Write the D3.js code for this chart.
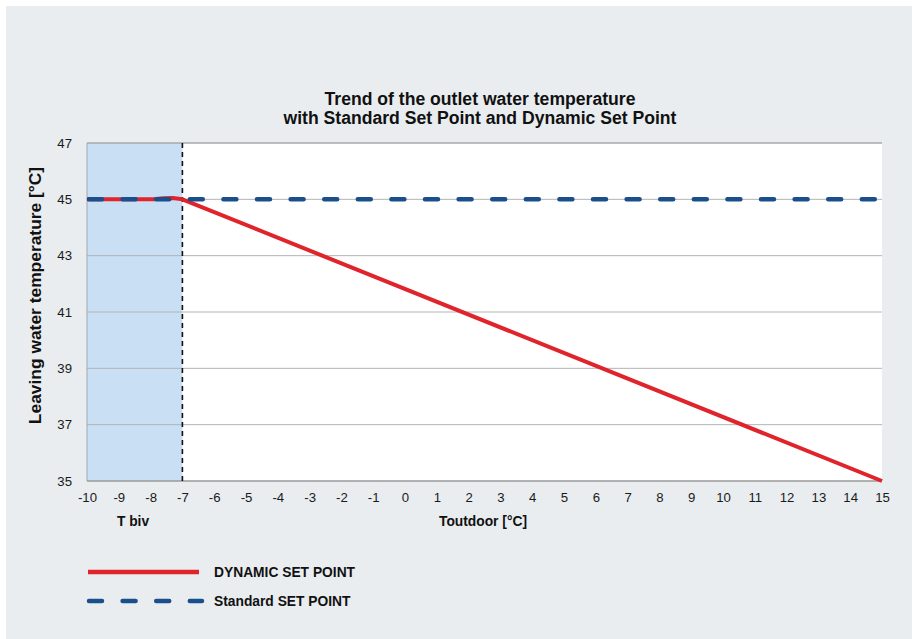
<!DOCTYPE html>
<html><head><meta charset="utf-8">
<script src="https://cdn.jsdelivr.net/npm/d3@7/dist/d3.min.js"></script>
<style>body{margin:0;background:#fff;} svg{display:block;font-family:"Liberation Sans",Arial,sans-serif;}</style>
</head><body>
<svg id="c" width="912" height="639"></svg>
<script>
const xTicks = d3.range(-10, 16, 1);
const yTicks = [35, 37, 39, 41, 43, 45, 47];
const dynamicX = [-10, -7.9, -7.6, -7.3, -7, 15];
const dynamicY = [45, 45, 45.04, 45.05, 45, 35];
const standardX = [-10, 15];
const standardY = [45, 45];
const tBiv = -7;
const titleLines = ["Trend of the outlet water temperature", "with Standard Set Point and Dynamic Set Point"];

const svg = d3.select("#c");
svg.append("rect").attr("x", 6).attr("y", 6).attr("width", 906).attr("height", 633).attr("fill", "#e9edf0");

const m = {l: 87, r: 882, t: 143, b: 481};
const x = d3.scaleLinear().domain([-10, 15]).range([m.l, m.r]);
const y = d3.scaleLinear().domain([35, 47]).range([m.b, m.t]);

svg.append("rect").attr("x", m.l).attr("y", m.t).attr("width", m.r - m.l).attr("height", m.b - m.t).attr("fill", "#fff");
svg.append("rect").attr("x", x(-10)).attr("y", m.t).attr("width", x(tBiv) - x(-10)).attr("height", m.b - m.t).attr("fill", "#c9dff3");

// gridlines
svg.append("g").selectAll("line").data(yTicks.filter(d => d > 35)).join("line")
  .attr("x1", m.l).attr("x2", m.r).attr("y1", d => y(d)).attr("y2", d => y(d))
  .attr("stroke", d => d === 47 ? "#a8a8a8" : "#b4b4b4").attr("stroke-width", d => d === 47 ? 1.5 : 1);

// axes lines
svg.append("line").attr("x1", m.l).attr("x2", m.l).attr("y1", m.t).attr("y2", m.b).attr("stroke", "#a0a8b0").attr("stroke-width", 1);
svg.append("line").attr("x1", m.l).attr("x2", m.r).attr("y1", m.b).attr("y2", m.b).attr("stroke", "#9a9a9a").attr("stroke-width", 1.5);

// tick labels
const fmt = d => String(d);
const yAxis = d3.axisLeft(y).tickValues(yTicks).tickSize(0).tickPadding(15).tickFormat(fmt);
const gy = svg.append("g").attr("transform", `translate(${m.l},0)`).call(yAxis);
gy.select(".domain").remove();
gy.selectAll("text").attr("font-size", 13.2).attr("fill", "#1a1a1a").attr("font-family", "Liberation Sans, Arial, sans-serif");

const xAxis = d3.axisBottom(x).tickValues(xTicks).tickSize(0).tickPadding(12).tickFormat(fmt);
const gx = svg.append("g").attr("transform", `translate(0,${m.b})`).call(xAxis);
gx.select(".domain").remove();
gx.selectAll("text").attr("font-size", 13.2).attr("fill", "#1a1a1a").attr("font-family", "Liberation Sans, Arial, sans-serif");

// tbiv vertical dashed
svg.append("line").attr("x1", x(tBiv)).attr("x2", x(tBiv)).attr("y1", m.t).attr("y2", m.b)
  .attr("stroke", "#111").attr("stroke-width", 1.6).attr("stroke-dasharray", "5,4");

const line = d3.line().x(d => x(d[0])).y(d => y(d[1]));
svg.append("path").datum(dynamicX.map((d, i) => [d, dynamicY[i]])).attr("d", line)
  .attr("fill", "none").attr("stroke", "#e0242c").attr("stroke-width", 4).attr("stroke-linejoin", "round");
svg.append("path").datum(standardX.map((d, i) => [d, standardY[i]])).attr("d", line)
  .attr("fill", "none").attr("stroke", "#1b4f8b").attr("stroke-width", 4.5)
  .attr("stroke-dasharray", "13,20.6").attr("stroke-linecap", "round").attr("stroke-dashoffset", -2);

// titles
svg.append("text").attr("x", 480).attr("y", 105).attr("text-anchor", "middle").attr("font-size", 17.6).attr("font-weight", "bold").attr("fill", "#111").text(titleLines[0]);
svg.append("text").attr("x", 480).attr("y", 124).attr("text-anchor", "middle").attr("font-size", 17.6).attr("font-weight", "bold").attr("fill", "#111").text(titleLines[1]);

svg.append("text").attr("transform", `translate(41,${(163 + 428) / 2}) rotate(-90)`).attr("text-anchor", "middle")
  .attr("font-size", 17.4).attr("font-weight", "bold").attr("fill", "#111").text("Leaving water temperature [°C]");
svg.append("text").attr("x", 483).attr("y", 526).attr("text-anchor", "middle").attr("font-size", 13.8).attr("font-weight", "bold").attr("fill", "#111").text("Toutdoor [°C]");
svg.append("text").attr("x", 133).attr("y", 526).attr("text-anchor", "middle").attr("font-size", 13.8).attr("font-weight", "bold").attr("fill", "#111").text("T biv");

// legend
svg.append("line").attr("x1", 88).attr("x2", 199).attr("y1", 572).attr("y2", 572).attr("stroke", "#e0242c").attr("stroke-width", 4.5);
svg.append("text").attr("x", 214).attr("y", 576.5).attr("font-size", 13.8).attr("font-weight", "bold").attr("fill", "#111").text("DYNAMIC SET POINT");
svg.append("line").attr("x1", 87).attr("x2", 202).attr("y1", 601).attr("y2", 601).attr("stroke", "#1b4f8b").attr("stroke-width", 4.5)
  .attr("stroke-dasharray", "13,20.6").attr("stroke-linecap", "round").attr("stroke-dashoffset", -2);
svg.append("text").attr("x", 214).attr("y", 605.5).attr("font-size", 13.8).attr("font-weight", "bold").attr("fill", "#111").text("Standard SET POINT");
</script>
</body></html>
